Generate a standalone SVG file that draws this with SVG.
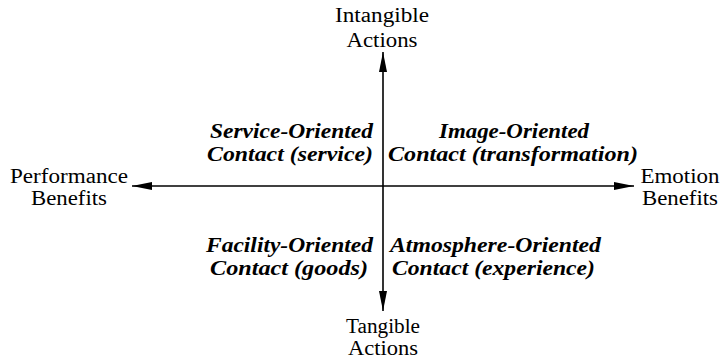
<svg xmlns="http://www.w3.org/2000/svg" width="720" height="358" viewBox="0 0 720 358">
<style>
text{font-family:'Liberation Serif','Times New Roman','DejaVu Serif',serif;fill:#000}
.ax{font-size:20px}
.q{font-size:20px;font-weight:bold;font-style:italic}
.ln{stroke:#000;stroke-width:1.6;fill:none}
</style>
<defs>
<marker id="ah2" viewBox="0 0 20 10" refX="20" refY="5" markerWidth="20" markerHeight="10" markerUnits="userSpaceOnUse" orient="auto">
<path d="M0,1 L20,5 L0,9 Z" fill="#000"/>
</marker>
</defs>
<g id="connectors">
<line class="ln" x1="383" y1="186" x2="383" y2="52" marker-end="url(#ah2)"/>
<line class="ln" x1="383" y1="186" x2="383" y2="311" marker-end="url(#ah2)"/>
<line class="ln" x1="383" y1="186" x2="132" y2="186" marker-end="url(#ah2)"/>
<line class="ln" x1="383" y1="186" x2="634" y2="186" marker-end="url(#ah2)"/>
</g>
<g id="intangible"><text class="ax" text-anchor="middle" x="382" y="22" textLength="94" lengthAdjust="spacingAndGlyphs">Intangible</text><text class="ax" text-anchor="middle" x="382" y="47" textLength="71" lengthAdjust="spacingAndGlyphs">Actions</text></g>
<g id="tangible"><text class="ax" text-anchor="middle" x="383" y="333" textLength="74" lengthAdjust="spacingAndGlyphs">Tangible</text><text class="ax" text-anchor="middle" x="383" y="355" textLength="70" lengthAdjust="spacingAndGlyphs">Actions</text></g>
<g id="performance"><text class="ax" text-anchor="middle" x="69" y="183" textLength="118" lengthAdjust="spacingAndGlyphs">Performance</text><text class="ax" text-anchor="middle" x="69" y="205" textLength="76" lengthAdjust="spacingAndGlyphs">Benefits</text></g>
<g id="emotion"><text class="ax" text-anchor="middle" x="680" y="183" textLength="79" lengthAdjust="spacingAndGlyphs">Emotion</text><text class="ax" text-anchor="middle" x="680" y="205" textLength="76" lengthAdjust="spacingAndGlyphs">Benefits</text></g>
<g id="service"><text class="q" text-anchor="end" x="373" y="138" textLength="163" lengthAdjust="spacingAndGlyphs">Service-Oriented</text><text class="q" text-anchor="end" x="373" y="161" textLength="166" lengthAdjust="spacingAndGlyphs">Contact (service)</text></g>
<g id="image"><text class="q" text-anchor="middle" x="514" y="138" textLength="150" lengthAdjust="spacingAndGlyphs">Image-Oriented</text><text class="q" text-anchor="middle" x="513" y="161" textLength="250" lengthAdjust="spacingAndGlyphs">Contact (transformation)</text></g>
<g id="facility"><text class="q" text-anchor="end" x="373" y="252" textLength="167" lengthAdjust="spacingAndGlyphs">Facility-Oriented</text><text class="q" text-anchor="middle" x="289" y="275" textLength="158" lengthAdjust="spacingAndGlyphs">Contact (goods)</text></g>
<g id="atmosphere"><text class="q" x="390" y="252" textLength="211" lengthAdjust="spacingAndGlyphs">Atmosphere-Oriented</text><text class="q" x="392" y="275" textLength="203" lengthAdjust="spacingAndGlyphs">Contact (experience)</text></g>
</svg>
